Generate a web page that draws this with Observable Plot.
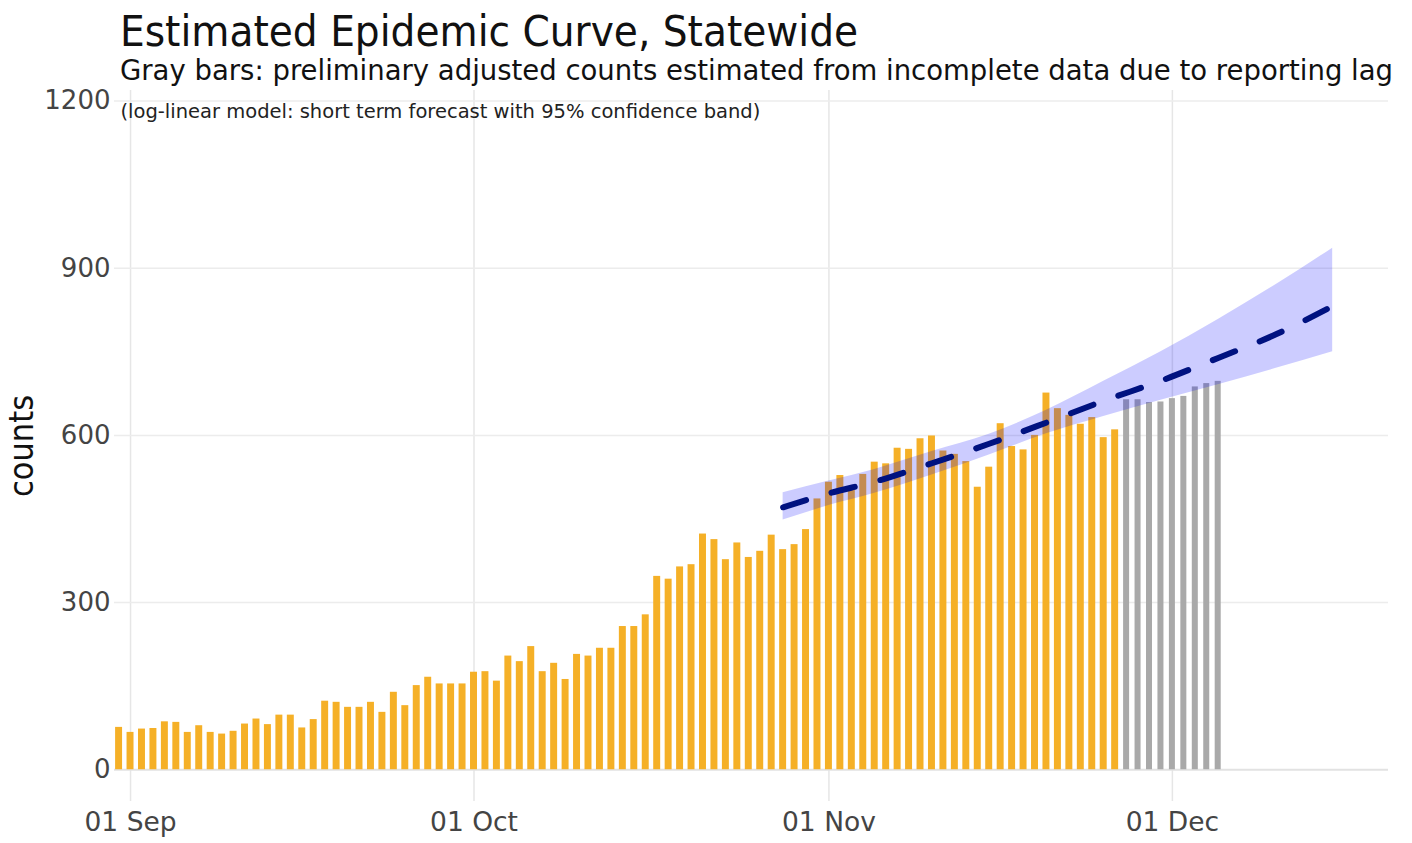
<!DOCTYPE html>
<html>
<head>
<meta charset="utf-8">
<script src="https://cdn.jsdelivr.net/npm/d3@7"></script>
<script src="https://cdn.jsdelivr.net/npm/@observablehq/plot@0.6"></script>
<style>
  html, body { margin: 0; padding: 0; background: #fff; }
  #wrap { position: relative; width: 1412px; height: 843px; overflow: hidden; font-family: "DejaVu Sans", sans-serif; }
  #title { position: absolute; left: 120px; top: 10px; font-family: "DejaVu Sans Condensed", "DejaVu Sans", sans-serif; font-stretch: condensed;
           font-size: 43.5px; line-height: 43.5px; color: #111; white-space: nowrap; z-index: 2; }
  #subtitle { position: absolute; left: 120px; top: 57px; font-size: 27.5px; line-height: 27px; color: #111; white-space: nowrap; z-index: 2; }
  #chart { position: absolute; left: 0; top: 80px; z-index: 1; font-stretch: normal; }
  #chart .ylab { font-stretch: condensed; }
</style>
</head>
<body>
<div id="wrap">
  <div id="title">Estimated Epidemic Curve, Statewide</div>
  <div id="subtitle">Gray bars: preliminary adjusted counts estimated from incomplete data due to reporting lag</div>
  <div id="chart"></div>
</div>
<script>
// ---- data ----
const observedStart = "2020-08-31";
const observedCounts = [76,67,73,74,86,85,67,79,67,64,69,82,91,81,98,98,75,90,123,121,112,112,121,103,139,
  115,151,166,154,154,154,175,176,159,204,194,221,176,191,162,207,204,218,218,257,257,278,347,342,364,
  368,423,413,377,407,381,392,421,395,404,431,486,516,528,505,530,552,549,577,575,594,599,572,566,553,
  507,543,621,580,574,600,676,648,636,620,632,596,610];
const preliminaryStart = "2020-11-27";
const preliminaryCounts = [664,664,659,660,666,670,687,693,697];

const forecastDates = ["2020-10-28","2020-11-01","2020-11-05","2020-11-10","2020-11-15","2020-11-20",
  "2020-11-25","2020-11-30","2020-12-05","2020-12-10","2020-12-15"];
const forecastMid  = [471,496,517,550,585,623,662,698,739,781,832];
const forecastLow  = [448,474,496,529,565,603,634,663,691,720,750];
const forecastHigh = [497,518,539,571,602,645,697,750,808,870,936];

const yTicks = [0, 300, 600, 900, 1200];
const xTickDates = ["2020-09-01","2020-10-01","2020-11-01","2020-12-01"];
const subNote = "(log-linear model: short term forecast with 95% confidence band)";
const yLabel = "counts";

// ---- tables ----
const parse = d3.utcParse("%Y-%m-%d");
const observed = observedCounts.map((v, i) => ({date: d3.utcDay.offset(parse(observedStart), i), value: v}));
const preliminary = preliminaryCounts.map((v, i) => ({date: d3.utcDay.offset(parse(preliminaryStart), i), value: v}));
const forecast = forecastDates.map((d, i) => ({date: parse(d), mid: forecastMid[i], low: forecastLow[i], high: forecastHigh[i]}));
const xTicks = xTickDates.map(parse);

const shift = h => d => d3.utcMinute.offset(d.date, h * 60);

const chart = Plot.plot({
  width: 1412,
  height: 763,
  marginTop: 10,
  marginBottom: 42,
  marginLeft: 114,
  marginRight: 24,
  style: {fontFamily: '"DejaVu Sans", sans-serif', background: "transparent", overflow: "visible"},
  x: {type: "utc", domain: [new Date(Date.UTC(2020,7,30,14,24)), new Date(Date.UTC(2020,11,19,21))]},
  y: {domain: [-57, 1219]},
  marks: [
    Plot.gridX(xTicks, {stroke: "#e6e6e6", strokeOpacity: 1, strokeWidth: 1.5}),
    Plot.gridY(yTicks.filter(t => t > 0), {stroke: "#ececec", strokeOpacity: 1, strokeWidth: 1.5}),
    Plot.ruleY([0], {stroke: "#e2e2e2", strokeWidth: 2}),
    Plot.rectY(observed, {x1: shift(-7.3), x2: shift(7.3), y1: 0, y2: "value", fill: "#f5b027"}),
    Plot.rectY(preliminary, {x1: shift(-6.3), x2: shift(6.3), y1: 0, y2: "value", fill: "#a9a9a9"}),
    Plot.areaY(forecast, {x: "date", y1: "low", y2: "high", fill: "#0000ff", fillOpacity: 0.2, curve: "monotone-x"}),
    Plot.lineY(forecast, {x: "date", y: "mid", stroke: "#001280", strokeWidth: 6, strokeDasharray: "24,26.5", curve: "monotone-x"}),
    Plot.axisY(yTicks, {tickSize: 0, tickPadding: 4, fontSize: 26, fill: "#444", tickFormat: d => String(d), label: null}),
    Plot.axisX(xTicks, {tickSize: 0, tickPadding: 11, fontSize: 26.5, fill: "#444", tickFormat: d3.utcFormat("%d %b"), label: null}),
    Plot.text([subNote], {frameAnchor: "top-left", dx: 6, dy: 21, lineAnchor: "middle", textAnchor: "start", fontSize: 19.5, fill: "#222", text: d => d}),
    Plot.text([yLabel], {frameAnchor: "left", dx: -92, rotate: -90, textAnchor: "middle", lineAnchor: "middle", fontSize: 34, fill: "#111",
      fontFamily: '"DejaVu Sans Condensed", "DejaVu Sans", sans-serif', className: "ylab", text: d => d})
  ]
});
document.getElementById("chart").appendChild(chart);
</script>
</body>
</html>
